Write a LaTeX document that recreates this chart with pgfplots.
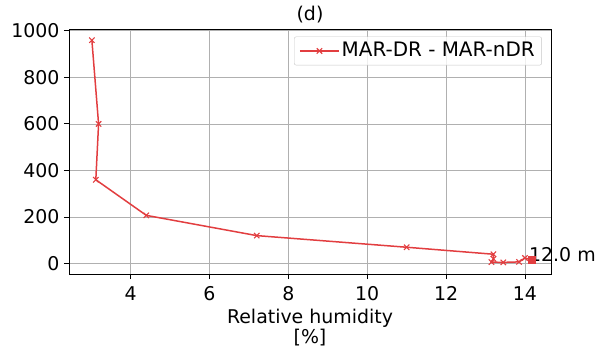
\documentclass[border=0pt]{standalone}
\usepackage{fontspec}
\setmainfont{DejaVu Sans}
\usepackage{pgfplots}
\pgfplotsset{compat=1.18}
\definecolor{lc}{HTML}{E23E40}
\definecolor{gridc}{HTML}{B0B0B0}
\begin{document}
\fontsize{19}{22}\selectfont
\begin{tikzpicture}
\begin{axis}[
  scale only axis,
  width=482bp, height=245bp,
  at={(0,0)}, anchor=south west,
  clip=false,
  xmin=2.44, xmax=14.66,
  ymin=-45, ymax=1008,
  xtick={4,6,8,10,12,14},
  ytick={0,200,400,600,800,1000},
  grid=major,
  major grid style={gridc, line width=0.8bp},
  axis line style={black, line width=0.9bp},
  tick style={black, line width=0.9bp},
  tick align=outside,
  major tick length=5bp,
  xtick pos=bottom, ytick pos=left,
  /pgf/number format/assume math mode=true,
  /pgf/number format/1000 sep={},
  tick label style={font=\fontsize{19}{22}\selectfont},
  xticklabel style={yshift=-1bp},
  yticklabel style={xshift=2bp},
  xlabel={Relative humidity\\{[}\%{]}},
  xlabel style={align=center, font=\fontsize{19}{21}\selectfont, yshift=5bp},
  title={(d)},
  title style={font=\fontsize{19}{22}\selectfont, yshift=-6bp},
  legend style={at={(0.981,0.969)}, anchor=north east, draw=gridc!70, rounded corners=2bp,
    fill=white, fill opacity=0.8, text opacity=1, font=\fontsize{20}{23}\selectfont,
    inner xsep=5bp, inner ysep=3.5bp},
  legend cell align=left,
  legend image code/.code={\draw[#1] (0bp,0bp) -- (39bp,0bp) plot coordinates {(19.5bp,0bp)};},
]
\addplot[lc, line width=1.5bp, mark=x, mark size=3.8bp, mark options={line width=1.1bp}] coordinates {
(3.02,960) (3.19,600) (3.12,360) (4.40,207) (7.20,120) (11.00,70) (13.20,40)
(13.20,20) (13.15,6) (13.45,5) (13.85,7) (14.00,24) (14.18,15)
};
\addlegendentry{MAR-DR - MAR-nDR}
\addplot[lc, only marks, mark=square*, mark size=3.5bp, forget plot] coordinates {(14.18,15)};
\node[anchor=base west, inner sep=0pt, font=\fontsize{19}{22}\selectfont] at (axis cs:14.1,10) {12.0 m};
\end{axis}
\pgfresetboundingbox
\useasboundingbox (-69bp,-80bp) rectangle (538bp,274bp);
\end{tikzpicture}
\end{document}
